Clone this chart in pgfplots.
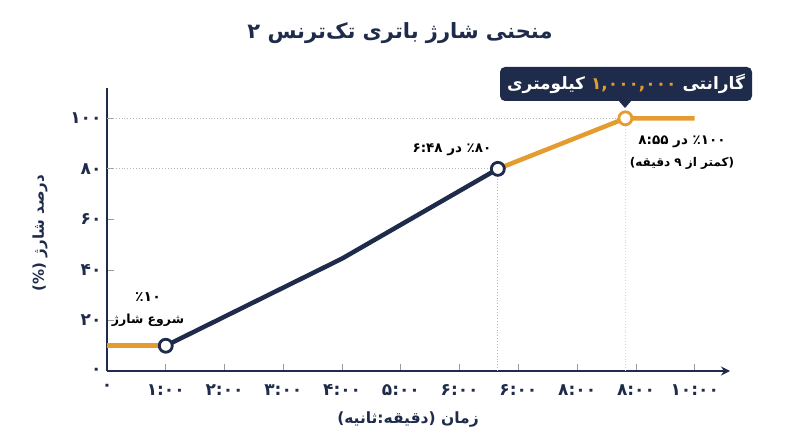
\documentclass[border=0pt]{standalone}
\usepackage{fontspec}
\usepackage{pgfplots}
\pgfplotsset{compat=1.18}
\usetikzlibrary{arrows.meta}
\TeXXeTstate=1
\newfontfamily\fa[Script=Arabic]{DejaVu Sans}
\definecolor{navy}{HTML}{1E2B4A}
\definecolor{gold}{HTML}{E49C2F}
\definecolor{gridgray}{HTML}{B8B8B8}
\definecolor{tickgray}{HTML}{9A9A9A}
\definecolor{tan}{HTML}{E8D2A8}
\newcommand\tl[1]{\mbox{\fa\bfseries #1}}
\begin{document}
\begin{tikzpicture}[x=1pt,y=1pt]
\path[use as bounding box] (0,0) rectangle (800,447);
% title
\node[text=navy, font=\fa\bfseries\fontsize{21}{25}\selectfont] at (400,414) {\beginR منحنی شارژ باتری تک‌ترنس ۲\endR};
\begin{axis}[
  at={(107pt,76pt)}, anchor=south west,
  scale only axis, width=623pt, height=283pt,
  xmin=0, xmax=10.6, ymin=0, ymax=112,
  axis x line=bottom, axis y line=left,
  axis line style={navy, line width=1.5pt},
  x axis line style={-{Stealth[length=9pt,width=9pt]}},
  y axis line style={-},
  xtick={0,1,...,10},
  xticklabels={\tl{۰},\tl{۱:۰۰},\tl{۲:۰۰},\tl{۳:۰۰},\tl{۴:۰۰},\tl{۵:۰۰},\tl{۶:۰۰},\tl{۶:۰۰},\tl{۸:۰۰},\tl{۸:۰۰},\tl{۱۰:۰۰}},
  ytick={0,20,...,100},
  yticklabels={\tl{۰},\tl{۲۰},\tl{۴۰},\tl{۶۰},\tl{۸۰},\tl{۱۰۰}},
  tick align=inside, major tick length=7pt,
  tick style={tickgray, line width=0.8pt},
  xticklabel style={text=navy, font=\fontsize{17}{19}\selectfont, yshift=-10pt},
  yticklabel style={text=navy, font=\fontsize{17}{19}\selectfont, xshift=-2pt},
  clip=false,
]
\addplot[gridgray, dotted, line width=0.9pt] coordinates {(0,100)(8.82,100)};
\addplot[gridgray, dotted, line width=0.9pt] coordinates {(0,80)(6.65,80)};
\addplot[gridgray, dotted, line width=0.9pt] coordinates {(6.65,0)(6.65,80)};
\addplot[tan, dotted, line width=0.9pt] coordinates {(8.82,0)(8.82,100)};
\addplot[gold, line width=4.5pt] coordinates {(0,10)(1,10)};
\addplot[navy, line width=4.5pt, line join=round] coordinates {(1,10)(4,44.5)(6.65,80)};
\addplot[gold, line width=4.5pt, line join=round] coordinates {(6.65,80)(8.82,100)(10,100)};
\addplot[only marks, mark=*, mark size=6.5pt, mark options={fill=white, draw=navy, line width=2.8pt}] coordinates {(1,10)(6.65,80)};
\addplot[only marks, mark=*, mark size=6.5pt, mark options={fill=white, draw=gold, line width=2.8pt}] coordinates {(8.82,100)};
\end{axis}
% axis labels
\node[text=navy, font=\fa\bfseries\fontsize{15.5}{18}\selectfont] at (408,27) {\beginR زمان (دقیقه:ثانیه)\endR};
\node[text=navy, rotate=90, font=\fa\bfseries\fontsize{15}{18}\selectfont] at (40,214) {\beginR درصد شارژ (\%)\endR};
% annotations
\node[text=black, font=\fa\bfseries\fontsize{14}{16}\selectfont] at (148,150) {٪۱۰};
\node[text=black, font=\fa\bfseries\fontsize{12.5}{15}\selectfont] at (148,127) {\beginR شروع شارژ\endR};
\node[text=black, font=\fa\bfseries\fontsize{13.5}{15}\selectfont] at (452,297) {\beginR ٪۸۰ در ۶:۴۸\endR};
\node[text=black, font=\fa\bfseries\fontsize{13.5}{15}\selectfont] at (682,305) {\beginR ٪۱۰۰ در ۸:۵۵\endR};
\node[text=black, font=\fa\bfseries\fontsize{12}{15}\selectfont] at (682,284) {\beginR (کمتر از ۹ دقیقه)\endR};
% callout
\fill[navy, rounded corners=5pt] (500,346) rectangle (752,380);
\fill[navy] (618,347) -- (632,347) -- (625,339) -- cycle;
\node[font=\fa\bfseries\fontsize{17}{20}\selectfont, inner sep=0pt] at (626,363.5) {\color{white}کیلومتری\ \color{gold}۱,۰۰۰,۰۰۰\ \color{white}گارانتی};
\end{tikzpicture}
\end{document}
